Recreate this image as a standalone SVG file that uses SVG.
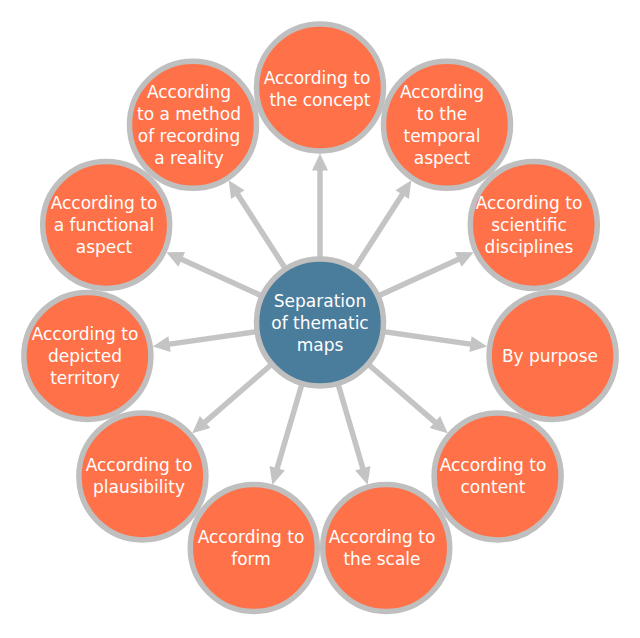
<svg xmlns="http://www.w3.org/2000/svg" width="640" height="638" viewBox="0 0 640 638">
<style>
.c{fill:#ff7148;stroke:#bfbfbf;stroke-width:5.5}
.h{fill:#4a7c9c;stroke:#bfbfbf;stroke-width:5.5}
.e{stroke:#c4c4c4;stroke-width:5.5;fill:none;marker-end:url(#ah)}
text{font-family:"DejaVu Sans","Verdana",sans-serif;font-size:17px;fill:#ffffff;text-anchor:middle}
</style>
<defs>
<marker id="ah" markerUnits="userSpaceOnUse" markerWidth="18" markerHeight="16" viewBox="0 0 17 16" refX="7" refY="8" orient="auto">
<path d="M0,0 L17,8 L0,16 z" fill="#c4c4c4"/>
</marker>
</defs>
<g id="connectors">
<line class="e" x1="320" y1="322.5" x2="320" y2="163.5"/>
<line class="e" x1="320" y1="322.5" x2="405.96" y2="188.7"/>
<line class="e" x1="320" y1="322.5" x2="464.63" y2="256.45"/>
<line class="e" x1="320" y1="322.5" x2="477.38" y2="345.13"/>
<line class="e" x1="320" y1="322.5" x2="440.16" y2="426.63"/>
<line class="e" x1="320" y1="322.5" x2="364.79" y2="475.06"/>
<line class="e" x1="320" y1="322.5" x2="275.21" y2="475.06"/>
<line class="e" x1="320" y1="322.5" x2="199.84" y2="426.63"/>
<line class="e" x1="320" y1="322.5" x2="162.62" y2="345.13"/>
<line class="e" x1="320" y1="322.5" x2="175.37" y2="256.45"/>
<line class="e" x1="320" y1="322.5" x2="234.04" y2="188.7"/>
</g>
<g id="hub">
<circle class="h" cx="320" cy="322.5" r="63.5"/>
<text x="320" y="307">Separation</text>
<text x="320" y="329">of thematic</text>
<text x="320" y="351">maps</text>
</g>
<g id="n-concept">
<circle class="c" cx="320" cy="87.5" r="63.5"/>
<text x="317" y="84">According to</text>
<text x="320" y="106">the concept</text>
</g>
<g id="n-temporal">
<circle class="c" cx="447" cy="124.8" r="63.5"/>
<text x="442" y="98">According</text>
<text x="442" y="120">to the</text>
<text x="442" y="142">temporal</text>
<text x="442" y="164">aspect</text>
</g>
<g id="n-scientific">
<circle class="c" cx="533.8" cy="224.9" r="63.5"/>
<text x="529" y="209">According to</text>
<text x="529" y="231">scientific</text>
<text x="529" y="253">disciplines</text>
</g>
<g id="n-purpose">
<circle class="c" cx="552.6" cy="355.9" r="63.5"/>
<text x="550" y="362">By purpose</text>
</g>
<g id="n-content">
<circle class="c" cx="497.6" cy="476.4" r="63.5"/>
<text x="493" y="471">According to</text>
<text x="493" y="493">content</text>
</g>
<g id="n-scale">
<circle class="c" cx="386.2" cy="548" r="63.5"/>
<text x="382" y="543">According to</text>
<text x="382" y="565">the scale</text>
</g>
<g id="n-form">
<circle class="c" cx="253.8" cy="548" r="63.5"/>
<text x="251" y="543">According to</text>
<text x="251" y="565">form</text>
</g>
<g id="n-plausibility">
<circle class="c" cx="142.4" cy="476.4" r="63.5"/>
<text x="139" y="471">According to</text>
<text x="139" y="493">plausibility</text>
</g>
<g id="n-territory">
<circle class="c" cx="87.4" cy="355.9" r="63.5"/>
<text x="85" y="340">According to</text>
<text x="85" y="362">depicted</text>
<text x="85" y="384">territory</text>
</g>
<g id="n-functional">
<circle class="c" cx="106.2" cy="224.9" r="63.5"/>
<text x="104" y="209">According to</text>
<text x="104" y="231">a functional</text>
<text x="104" y="253">aspect</text>
</g>
<g id="n-method">
<circle class="c" cx="193" cy="124.8" r="63.5"/>
<text x="189" y="98">According</text>
<text x="189" y="120">to a method</text>
<text x="189" y="142">of recording</text>
<text x="189" y="164">a reality</text>
</g>
</svg>
